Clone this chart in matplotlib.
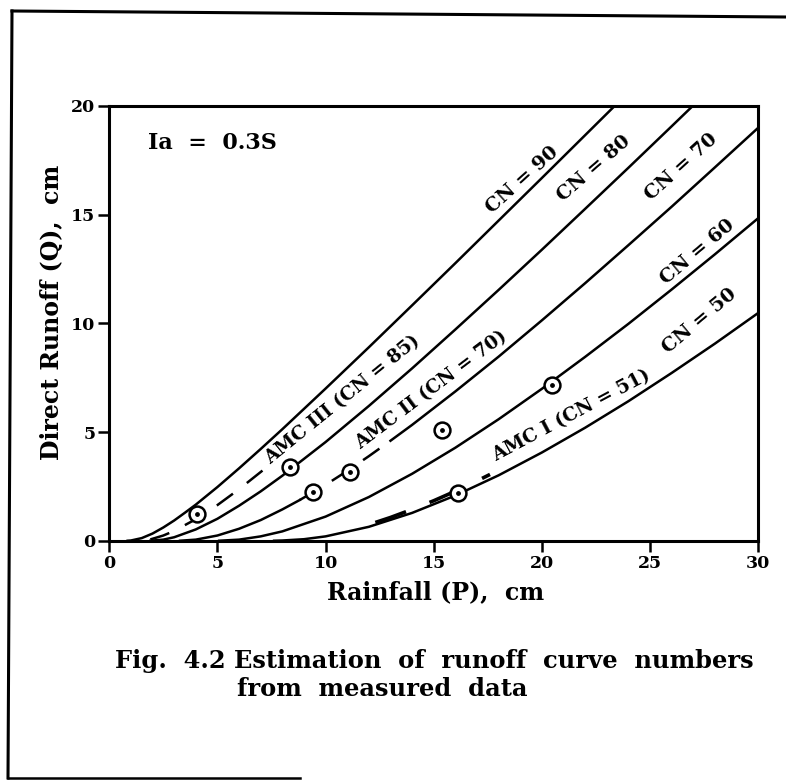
import numpy as np
import matplotlib
matplotlib.use("Agg")
import matplotlib.pyplot as plt
from matplotlib.lines import Line2D

plt.rcParams['font.family'] = ['DejaVu Serif']
plt.rcParams['font.weight'] = 'bold'

# curves: rainfall P (cm) vs direct runoff Q (cm)
cn90_p = [0.85, 1, 1.5, 2, 2.5, 3, 3.5, 4, 5, 6, 7, 8, 10, 12, 14, 16, 18, 20, 22, 23.4]
cn90_q = [0, 0.01, 0.12, 0.33, 0.61, 0.93, 1.29, 1.66, 2.47, 3.33, 4.22, 5.13, 7.00, 8.90,
          10.83, 12.77, 14.73, 16.69, 18.66, 20.04]

cn80_p = [1.9, 2.5, 3, 4, 5, 6, 7, 8, 10, 12, 14, 16, 18, 20, 22, 24, 26, 27]
cn80_q = [0, 0.05, 0.16, 0.52, 1.01, 1.61, 2.27, 2.99, 4.54, 6.20, 7.93, 9.72, 11.54, 13.39,
          15.27, 17.16, 19.07, 20.03]

cn70_p = [3.27, 4, 5, 6, 7, 8, 8.8, 10, 11, 12, 13, 14, 16, 18, 20, 22, 24, 26, 28, 30]
cn70_q = [0, 0.05, 0.24, 0.55, 0.95, 1.44, 1.87, 2.57, 3.21, 3.89, 4.60, 5.33, 6.87, 8.47,
          10.14, 11.85, 13.60, 15.37, 17.18, 19.00]

cn60_p = [5.08, 6, 7, 8, 10, 12, 14, 16, 18, 20, 22, 24, 26, 28, 30]
cn60_q = [0, 0.05, 0.20, 0.43, 1.11, 2.01, 3.08, 4.28, 5.59, 6.99, 8.46, 9.98, 11.56, 13.18, 14.84]

cn50_p = [7.62, 8, 9, 10, 12, 14, 16, 18, 20, 22, 24, 26, 28, 30]
cn50_q = [0, 0.01, 0.07, 0.20, 0.64, 1.28, 2.08, 3.01, 4.06, 5.20, 6.42, 7.72, 9.07, 10.48]

# fitted AMC curves (dashed parts)
amc3_p = [1.9, 2.5, 3, 4, 5, 6, 7.2]
amc3_q = [0.06, 0.24, 0.45, 0.99, 1.64, 2.37, 3.32]
amc1_p = [12.3, 13, 14, 15, 16, 17, 17.6]
amc1_q = [0.84, 1.07, 1.44, 1.84, 2.28, 2.75, 3.05]

# measured data
obs_p = [4.04, 8.36, 9.40, 11.15, 15.40, 16.13, 20.45]
obs_q = [1.23, 3.37, 2.25, 3.14, 5.09, 2.18, 7.16]

fig = plt.figure(figsize=(7.86, 7.84), dpi=100)
ax = fig.add_axes([0.139, 0.3103, 0.8257, 0.5545])

lw = 1.8
ax.plot(cn90_p, cn90_q, color='black', lw=lw)
ax.plot(cn80_p, cn80_q, color='black', lw=lw)
ax.plot(cn60_p, cn60_q, color='black', lw=lw)
ax.plot(cn50_p, cn50_q, color='black', lw=lw)

# CN 70 is dashed where it doubles as the AMC II fit
p70 = np.array(cn70_p)
q70 = np.array(cn70_q)
lo = p70 <= 8.8
hi = p70 >= 13
mid = (p70 >= 8.8) & (p70 <= 13)
ax.plot(p70[lo], q70[lo], color='black', lw=lw)
ax.plot(p70[hi], q70[hi], color='black', lw=lw)
ax.plot(p70[mid], q70[mid], color='black', lw=lw, dashes=(8, 7))

ax.plot(amc3_p, amc3_q, color='black', lw=1.8, dashes=(8, 7))
ax.plot(amc1_p, amc1_q, color='black', lw=2.6, dashes=(9, 7))

ax.scatter(obs_p, obs_q, s=130, facecolor='white', edgecolor='black', linewidth=1.8, zorder=5)
ax.scatter(obs_p, obs_q, s=6, color='black', zorder=6)

# curve labels
lab = dict(fontsize=14, fontweight='bold', rotation_mode='anchor', ha='center', va='center')
ax.text(19.07, 16.59, 'CN = 90', rotation=42, **lab)
ax.text(22.38, 17.13, 'CN = 80', rotation=41, **lab)
ax.text(26.42, 17.20, 'CN = 70', rotation=42, **lab)
ax.text(27.19, 13.29, 'CN = 60', rotation=40, **lab)
ax.text(27.30, 10.10, 'CN = 50', rotation=40, **lab)

amc = dict(fontsize=13.5, fontweight='bold', rotation_mode='anchor', ha='left', va='center')
ax.text(7.3, 3.66, 'AMC III (CN = 85)', rotation=39, **amc)
ax.text(11.47, 4.35, 'AMC II (CN = 70)', rotation=37, **amc)
ax.text(17.76, 3.85, 'AMC I (CN = 51)', rotation=28, **amc)

ax.text(1.8, 18.3, 'Ia  =  0.3S', fontsize=16, fontweight='bold', ha='left', va='center')

ax.set_xlim(0, 30)
ax.set_ylim(0, 20)
ax.set_xticks([0, 5, 10, 15, 20, 25, 30])
ax.set_yticks([0, 5, 10, 15, 20])
ax.tick_params(direction='out', length=8, width=1.8, pad=2, labelsize=12.5)
for s in ax.spines.values():
    s.set_linewidth(2.2)

ax.set_xlabel('Rainfall (P),  cm', fontsize=17, fontweight='bold')
ax.set_ylabel('Direct Runoff (Q),  cm', fontsize=17, fontweight='bold')
ax.xaxis.set_label_coords(0.503, -0.09)
ax.yaxis.set_label_coords(-0.07, 0.526)

fig.text(0.1463, 0.1568, 'Fig.  4.2 Estimation  of  runoff  curve  numbers',
         fontsize=17.4, fontweight='bold', ha='left', va='center')
fig.text(0.3015, 0.1212, 'from  measured  data',
         fontsize=17.4, fontweight='bold', ha='left', va='center')

# page frame of the scanned figure
W, H = 786.0, 784.0
fig.add_artist(Line2D([12 / W, 1.0], [1 - 11 / H, 1 - 17 / H], color='black', lw=2.2))
fig.add_artist(Line2D([12 / W, 8 / W], [1 - 11 / H, 1 - 778 / H], color='black', lw=2.2))
fig.add_artist(Line2D([8 / W, 300 / W], [1 - 778 / H, 1 - 778 / H], color='black', lw=1.8))

fig.savefig('out.png', dpi=100)
